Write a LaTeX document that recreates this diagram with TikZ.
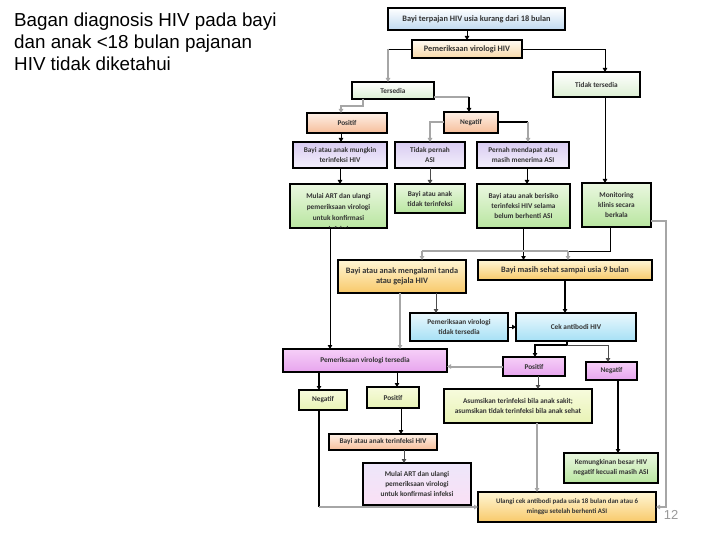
\documentclass[tikz,border=0pt]{standalone}
\usepackage{fontspec}
\newfontfamily\arialf{Liberation Sans}
\newfontfamily\carl{Carlito}
\usetikzlibrary{arrows.meta}
\definecolor{blueB}{HTML}{BFD9F0}
\definecolor{creamT}{HTML}{FFFBF3}
\definecolor{creamB}{HTML}{F8D9A9}
\definecolor{lgreenB}{HTML}{DCEFD3}
\definecolor{salT}{HTML}{FEF0E6}
\definecolor{salB}{HTML}{F6BE9A}
\definecolor{lavT}{HTML}{D9CCF2}
\definecolor{lavB}{HTML}{F3EFFB}
\definecolor{grT}{HTML}{EAF7E0}
\definecolor{grB}{HTML}{B9E6A0}
\definecolor{yoT}{HTML}{FFF6D5}
\definecolor{yoB}{HTML}{F8C96A}
\definecolor{cyT}{HTML}{EAF8FD}
\definecolor{cyB}{HTML}{A6E0F5}
\definecolor{pkT}{HTML}{F6CFF8}
\definecolor{pkB}{HTML}{E7A5EE}
\definecolor{ygT}{HTML}{F7FBDD}
\definecolor{ygB}{HTML}{E8F3B5}
\definecolor{mpT}{HTML}{EDE6FA}
\definecolor{mpB}{HTML}{FAE0F5}
\definecolor{lineG}{HTML}{A6A6A6}
\tikzset{
  bx/.style={draw=black, line width=1.1pt, inner sep=1pt, outer sep=0pt, align=center,
    font=\carl\bfseries\fontsize{7.3}{10}\selectfont, text=black!80},
  bigf/.style={font=\carl\bfseries\fontsize{8.3}{10}\selectfont},
  ulf/.style={font=\carl\bfseries\fontsize{6.9}{10}\selectfont},
  cblue/.style={top color=white, bottom color=blueB},
  ccream/.style={top color=creamT, bottom color=creamB},
  clg/.style={top color=white, bottom color=lgreenB},
  csal/.style={top color=salT, bottom color=salB},
  clav/.style={top color=lavT, bottom color=lavB},
  cgr/.style={top color=grT, bottom color=grB},
  cyo/.style={top color=yoT, bottom color=yoB},
  ccy/.style={top color=cyT, bottom color=cyB},
  cpk/.style={top color=pkT, bottom color=pkB},
  cyg/.style={top color=ygT, bottom color=ygB},
  cmp/.style={top color=mpT, bottom color=mpB},
  tip/.style={-{Triangle[width=4.5pt,length=4pt]}},
  blk/.style={draw=black, line width=0.9pt},
  blkk/.style={draw=black, line width=2pt},
  gry/.style={draw=lineG, line width=2pt},
  dgry/.style={draw=black!70, line width=1pt},
  ttl/.style={font=\arialf\fontsize{18.8}{22}\selectfont, anchor=base west, inner sep=0pt}
}
\begin{document}
\begin{tikzpicture}[x=1pt,y=-1pt]
\useasboundingbox (0,0) rectangle (720,540);
\fill[white] (0,0) rectangle (720,540);
% title
\node[ttl] (t1) at (14,27) {Bagan diagnosis HIV pada bayi};
\node[ttl] (t2) at (14,49) {dan anak <18 bulan pajanan};
\node[ttl] (t3) at (14,71) {HIV tidak diketahui};
\node[font=\arialf\fontsize{13}{15}\selectfont, text=black!40, inner sep=0pt] (pg) at (671,515) {12};
% boxes
\node[bx,bigf,cblue,minimum width=177pt,minimum height=22pt] (b1) at (476.5,19) {Bayi terpajan HIV usia kurang dari 18 bulan};
\node[bx,bigf,ccream,minimum width=110pt,minimum height=18pt] (b2) at (467,49) {Pemeriksaan virologi HIV};
\node[bx,clg,minimum width=82pt,minimum height=17pt] (ters) at (393,90.5) {Tersedia};
\node[bx,clg,minimum width=87pt,minimum height=25pt] (tidak) at (596.5,84.5) {Tidak tersedia};
\node[bx,csal,minimum width=80pt,minimum height=20pt] (pos1) at (347,123) {Positif};
\node[bx,csal,minimum width=54pt,minimum height=21pt] (neg1) at (471,122.5) {Negatif};
\node[bx,clav,minimum width=94pt,minimum height=26pt] (mung) at (340,155) {Bayi atau anak mungkin\\terinfeksi HIV};
\node[bx,clav,minimum width=70pt,minimum height=26pt] (tpasi) at (430,155) {Tidak pernah\\ASI};
\node[bx,clav,minimum width=92pt,minimum height=26pt] (pernah) at (523,155) {Pernah mendapat atau\\masih menerima ASI};
\node[bx,cgr,minimum width=97pt,minimum height=44pt] (mulai1) at (338.5,206) {};
\begin{scope}
\clip (290.6,184.6) rectangle (386.4,227.4);
\node[bx,draw=none,font=\carl\bfseries\fontsize{7.3}{11}\selectfont] (mulai1t) at (338.5,212.5) {Mulai ART dan ulangi\\pemeriksaan virologi\\untuk konfirmasi\\infeksi};
\end{scope}
\node[bx,cgr,minimum width=70pt,minimum height=29pt] (tdk) at (430,198.5) {Bayi atau anak\\tidak terinfeksi};
\node[bx,cgr,minimum width=93pt,minimum height=44pt] (beris) at (523.5,206) {Bayi atau anak berisiko\\terinfeksi HIV selama\\belum berhenti ASI};
\node[bx,cgr,minimum width=69pt,minimum height=44pt] (mon) at (616.5,205) {Monitoring\\klinis secara\\berkala};
\node[bx,bigf,cyo,minimum width=128pt,minimum height=33pt] (b14) at (402,276.5) {Bayi atau anak mengalami tanda\\atau gejala HIV};
\node[bx,bigf,cyo,minimum width=174pt,minimum height=20pt] (b15) at (565,270) {Bayi masih sehat sampai usia 9 bulan};
\node[bx,ccy,minimum width=98pt,minimum height=28pt] (pvtt) at (459,327) {Pemeriksaan virologi\\tidak tersedia};
\node[bx,ccy,minimum width=120pt,minimum height=28pt] (cek) at (576,327) {Cek antibodi HIV};
\node[bx,cpk,minimum width=164pt,minimum height=23pt] (pvt) at (365,360.5) {Pemeriksaan virologi tersedia};
\node[bx,cpk,minimum width=62pt,minimum height=19pt] (pos2) at (534,366.5) {Positif};
\node[bx,cpk,minimum width=51pt,minimum height=18pt] (neg2) at (611.5,371) {Negatif};
\node[bx,cyg,minimum width=48pt,minimum height=20pt] (negL) at (323,400) {Negatif};
\node[bx,cyg,minimum width=52pt,minimum height=21pt] (posL) at (393,397.5) {Positif};
\node[bx,cyg,line width=2pt,minimum width=148pt,minimum height=34pt] (asum) at (518,406) {Asumsikan terinfeksi bila anak sakit;\\asumsikan tidak terinfeksi bila anak sehat};
\node[bx,csal,minimum width=108pt,minimum height=16pt] (bati) at (383,442) {Bayi atau anak terinfeksi HIV};
\node[bx,cmp,minimum width=108pt,minimum height=42pt] (mulai2) at (417,484) {Mulai ART dan ulangi\\pemeriksaan virologi\\untuk konfirmasi infeksi};
\node[bx,cgr,minimum width=94pt,minimum height=30pt] (kem) at (611,468) {Kemungkinan besar HIV\\negatif kecuali masih ASI};
\node[bx,ulf,cyo,minimum width=178pt,minimum height=30pt] (ulangi) at (567,507) {Ulangi cek antibodi pada usia 18 bulan dan atau 6\\minggu setelah berhenti ASI};
% helper coordinates
\coordinate (k1) at (388,49);
\coordinate (k2) at (469,97);
\coordinate (k3) at (422,251);
\coordinate (k4) at (568,251);
\coordinate (k5) at (666,221);
\coordinate (k6) at (567,345);
\coordinate (k7) at (319,507);
\coordinate (k8) at (528,122.5);
% connectors
\draw[blk,tip] (b1.south -| b2.north) -- (b2.north);
\draw[blk] (b2.west) -- (k1);
\draw[gry,tip] (k1) -- (k1 |- ters.north);
\draw[blk,tip] (b2.east) -| ([xshift=8.5pt]tidak.north);
\draw[gry,tip] ([xshift=-30pt]ters.south) -- ++(0,7) -| ([xshift=-6pt]pos1.north);
\draw[gry] (ters.east |- k2) -- (k2);
\draw[blkk,tip] (k2) -- (k2 |- neg1.north);
\draw[blk,tip] ([xshift=8.5pt]tidak.south) -- ([xshift=8.5pt]tidak.south |- mon.north);
\draw[blk,tip] ([xshift=-6pt]pos1.south) -- ([xshift=-6pt]pos1.south |- mung.north);
\draw[blk,tip] (mung.south) -- (mung.south |- mulai1.north);
\draw[gry,tip] (neg1.west) -| (tpasi.north);
\draw[blkk] (neg1.east) -- (k8);
\draw[gry,tip] (k8) -- (k8 |- pernah.north);
\draw[dgry,tip] (tpasi.south) -- (tdk.north);
\draw[blk,tip] ([xshift=4pt]pernah.south) -- ([xshift=4pt]pernah.south |- beris.north);
\draw[blk,tip] ([xshift=-8.5pt]mulai1.south) -- ([xshift=-8.5pt]mulai1.south |- pvt.north);
\draw[blk,tip] (beris.south) -- (beris.south |- b15.north);
\draw[blk] ([xshift=-6.5pt]mon.south) |- (k4);
\draw[gry] (k4) -- (k3);
\draw[gry,tip] (k3) -- (k3 |- b14.north);
\draw[gry,tip] (k4) -- (k4 |- b15.north);
\draw[gry,tip] (mon.east |- k5) -- (k5) |- (ulangi.east);
\draw[gry,tip] ([xshift=-2pt]b14.south) -- ([xshift=-2pt]b14.south |- pvt.north);
\draw[dgry,tip] ([xshift=34pt]b14.south) -- ([xshift=34pt]b14.south |- pvtt.north);
\draw[blkk,tip] (b15.south) -- (b15.south |- cek.north);
\draw[blk,tip] (pvtt.east) -- (cek.west);
\draw[blkk] ([xshift=-9pt]cek.south) -- (k6);
\draw[blkk,tip] (k6) -| ([xshift=1pt]pos2.north);
\draw[dgry,tip] (k6) -| ([xshift=-3.5pt]neg2.north);
\draw[gry,tip] (pos2.west) -- (pos2.west -| pvt.east);
\draw[dgry,tip] ([xshift=4pt]pos2.south) -- ([xshift=4pt]pos2.south |- asum.north);
\draw[blkk,tip] ([xshift=6.5pt]neg2.south) -- ([xshift=6.5pt]neg2.south |- kem.north);
\draw[blkk,tip] ([xshift=-4pt]negL.north |- pvt.south) -- ([xshift=-4pt]negL.north);
\draw[blk,tip] ([xshift=4pt]posL.north |- pvt.south) -- ([xshift=4pt]posL.north);
\draw[blk,tip] ([xshift=8pt]posL.south) -- ([xshift=8pt]posL.south |- bati.north);
\draw[dgry,tip] ([xshift=21pt]bati.south) -- ([xshift=21pt]bati.south |- mulai2.north);
\draw[blkk] ([xshift=-4pt]negL.south) -- (k7);
\draw[gry,tip] (k7) -- (ulangi.west);
\draw[gry,tip] ([xshift=19pt]asum.south) -- ([xshift=19pt]asum.south |- ulangi.north);
\end{tikzpicture}
\end{document}
